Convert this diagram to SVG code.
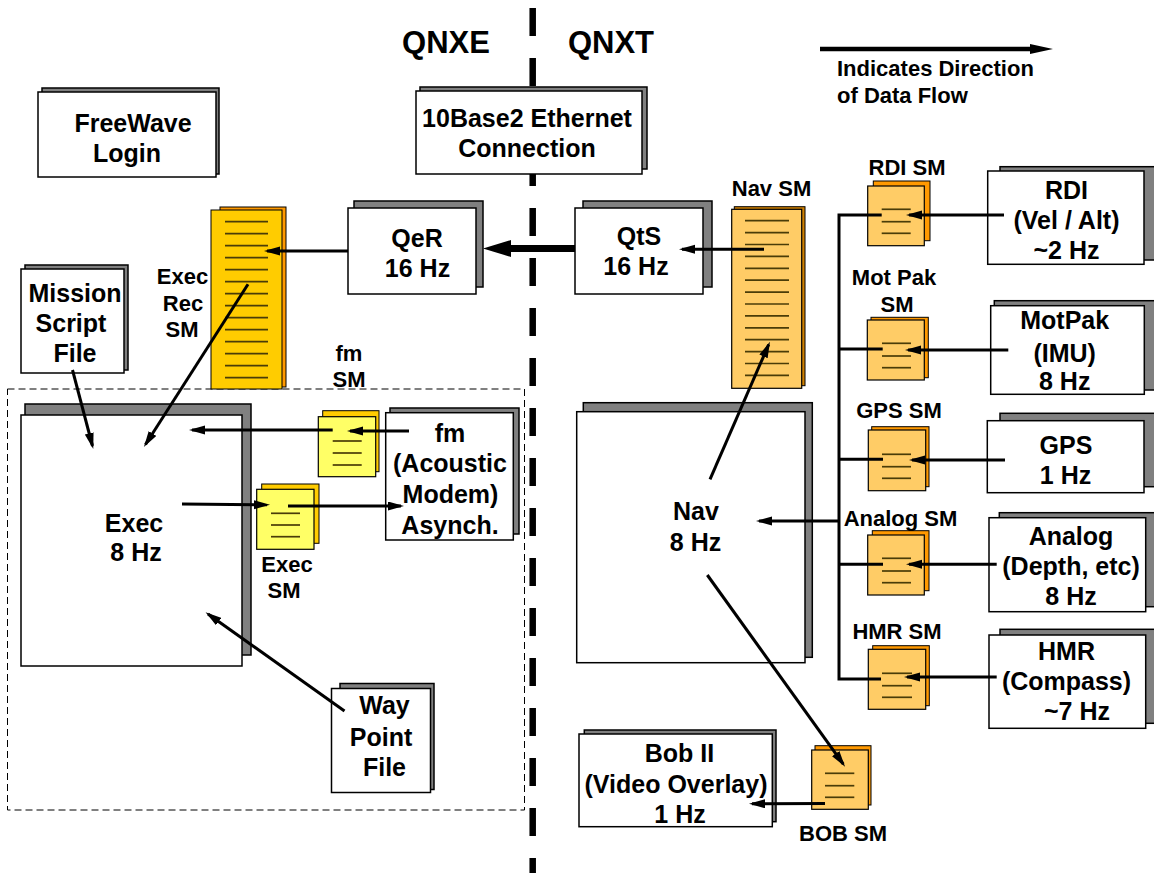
<svg xmlns="http://www.w3.org/2000/svg" width="1154" height="873" viewBox="0 0 1154 873">
<defs>
<style>
text{font-family:"Liberation Sans",Arial,sans-serif;font-weight:bold;fill:#000}
.L{font-size:25px;text-anchor:middle}
.S{font-size:22px;text-anchor:middle}
.Q{font-size:31px;text-anchor:middle}
.sh{fill:#808080;stroke:#000;stroke-width:1.5}
.bx{fill:#fff;stroke:#000;stroke-width:1.5}
.ln{stroke:#4a3c08;stroke-width:1.7}
.c{stroke:#000;stroke-width:3;fill:none}
.ca{stroke:#000;stroke-width:3;fill:none;marker-end:url(#ah)}
.yb{fill:#FFCC00;stroke:#000;stroke-width:1}
.yf{fill:#FFFF66;stroke:#000;stroke-width:1.2}
.ob{fill:#FF9900;stroke:#000;stroke-width:1}
.of{fill:#FFCC66;stroke:#000;stroke-width:1.2}
</style>
<marker id="ah" markerUnits="userSpaceOnUse" markerWidth="18" markerHeight="10" refX="13" refY="4.5" orient="auto">
<path d="M0,0 L16,4.5 L0,9 z" fill="#000"/>
</marker>
</defs>

<!-- center divider -->
<line x1="532.7" y1="8" x2="532.7" y2="873" stroke="#000" stroke-width="6.5" stroke-dasharray="28 22"/>
<!-- dashed region -->
<rect x="7.5" y="389" width="517" height="421" fill="none" stroke="#000" stroke-width="1" stroke-dasharray="7 4"/>

<text class="Q" x="446" y="53">QNXE</text>
<text class="Q" x="611" y="53">QNXT</text>

<g id="legend">
<line x1="820" y1="49" x2="1032" y2="49" stroke="#000" stroke-width="4.5"/>
<polygon points="1053,49 1030,44 1030,54" fill="#000"/>
<text x="837" y="76" style="font-size:22px">Indicates Direction</text>
<text x="837" y="103" style="font-size:22px">of Data Flow</text>
</g>

<g id="freewave">
<rect class="sh" x="42" y="88" width="177" height="86"/>
<rect class="bx" x="38" y="92" width="178" height="85"/>
<text class="L" x="133" y="132">FreeWave</text>
<text class="L" x="127" y="162">Login</text>
</g>

<g id="ethernet">
<rect class="sh" x="420" y="87" width="227" height="82"/>
<rect class="bx" x="416" y="91" width="226" height="83"/>
<text class="L" x="527" y="127">10Base2 Ethernet</text>
<text class="L" x="527" y="157">Connection</text>
</g>

<g id="mission">
<rect class="sh" x="25" y="265" width="103" height="105"/>
<rect class="bx" x="21" y="269" width="103" height="104"/>
<text class="L" x="75" y="302">Mission</text>
<text class="L" x="71" y="332">Script</text>
<text class="L" x="75" y="362">File</text>
</g>

<g id="execrecsm">
<rect class="ob" x="220" y="207" width="66" height="180"/>
<rect class="yb" x="211" y="210" width="71" height="179"/>
<g class="ln">
<line x1="225" y1="221.7" x2="268" y2="221.7"/><line x1="225" y1="233.7" x2="268" y2="233.7"/>
<line x1="225" y1="245.7" x2="268" y2="245.7"/><line x1="225" y1="257.7" x2="268" y2="257.7"/>
<line x1="225" y1="269.7" x2="268" y2="269.7"/><line x1="225" y1="281.7" x2="268" y2="281.7"/>
<line x1="225" y1="293.7" x2="268" y2="293.7"/><line x1="225" y1="305.7" x2="268" y2="305.7"/>
<line x1="225" y1="317.7" x2="268" y2="317.7"/><line x1="225" y1="329.7" x2="268" y2="329.7"/>
<line x1="225" y1="341.7" x2="268" y2="341.7"/><line x1="225" y1="353.7" x2="268" y2="353.7"/>
<line x1="225" y1="365.7" x2="268" y2="365.7"/><line x1="225" y1="377.7" x2="268" y2="377.7"/>
</g>
<text class="S" x="182.5" y="284">Exec</text>
<text class="S" x="183" y="310.5">Rec</text>
<text class="S" x="182" y="337">SM</text>
</g>

<g id="qer">
<rect class="sh" x="354" y="201" width="129" height="86"/>
<rect class="bx" x="348" y="208" width="128" height="86"/>
<text class="L" x="417" y="247">QeR</text>
<text class="L" x="417.5" y="277">16 Hz</text>
</g>

<g id="qts">
<rect class="sh" x="583" y="201" width="129" height="86"/>
<rect class="bx" x="575" y="208" width="128" height="86"/>
<text class="L" x="639" y="245">QtS</text>
<text class="L" x="636" y="275">16 Hz</text>
</g>

<g id="navsm">
<rect x="734.3" y="206.7" width="70.7" height="179" fill="#D08000" stroke="#000" stroke-width="1"/>
<rect class="of" x="731.7" y="209.3" width="70" height="179"/>
<g class="ln">
<line x1="745" y1="220.7" x2="789" y2="220.7"/><line x1="745" y1="232.6" x2="789" y2="232.6"/>
<line x1="745" y1="244.5" x2="789" y2="244.5"/><line x1="745" y1="256.4" x2="789" y2="256.4"/>
<line x1="745" y1="268.3" x2="789" y2="268.3"/><line x1="745" y1="280.2" x2="789" y2="280.2"/>
<line x1="745" y1="292.1" x2="789" y2="292.1"/><line x1="745" y1="304" x2="789" y2="304"/>
<line x1="745" y1="315.9" x2="789" y2="315.9"/><line x1="745" y1="327.8" x2="789" y2="327.8"/>
<line x1="745" y1="339.7" x2="789" y2="339.7"/><line x1="745" y1="351.6" x2="789" y2="351.6"/>
<line x1="745" y1="363.5" x2="789" y2="363.5"/><line x1="745" y1="375.4" x2="789" y2="375.4"/>
</g>
<text class="S" x="771.5" y="196">Nav SM</text>
</g>

<g id="exec">
<rect class="sh" x="25" y="404" width="226" height="251"/>
<rect class="bx" x="21" y="415" width="221" height="251"/>
<text class="L" x="134" y="532">Exec</text>
<text class="L" x="136" y="561">8 Hz</text>
</g>

<g id="fmsm">
<rect class="yb" x="322.7" y="410.7" width="56.3" height="61"/>
<rect class="yf" x="318.3" y="416.7" width="57.4" height="60"/>
<g class="ln">
<line x1="332.7" y1="441" x2="361.7" y2="441"/><line x1="332.7" y1="453" x2="361.7" y2="453"/><line x1="332.7" y1="465" x2="361.7" y2="465"/>
</g>
<text class="S" x="349" y="361">fm</text>
<text class="S" x="349" y="387">SM</text>
</g>

<g id="fm">
<rect class="sh" x="390" y="408" width="129" height="126"/>
<rect class="bx" x="385.7" y="412.7" width="127.6" height="127.3"/>
<text class="L" x="450" y="442">fm</text>
<text class="L" x="450" y="472">(Acoustic</text>
<text class="L" x="450.5" y="503">Modem)</text>
<text class="L" x="450" y="534">Asynch.</text>
</g>

<g id="execsm">
<rect class="yb" x="261.7" y="484" width="57.3" height="59.3"/>
<rect class="yf" x="256.7" y="489.3" width="57.3" height="60"/>
<g class="ln">
<line x1="271" y1="513.3" x2="300" y2="513.3"/><line x1="271" y1="525" x2="300" y2="525"/><line x1="271" y1="536.7" x2="300" y2="536.7"/>
</g>
<text class="S" x="287" y="572">Exec</text>
<text class="S" x="284" y="598">SM</text>
</g>

<g id="waypoint">
<rect class="sh" x="340" y="683.5" width="94" height="106"/>
<rect class="bx" x="331.5" y="688.5" width="99" height="104"/>
<text class="L" x="384.5" y="714">Way</text>
<text class="L" x="381" y="746">Point</text>
<text class="L" x="384.5" y="776">File</text>
</g>

<g id="nav">
<rect class="sh" x="583.3" y="402.7" width="229" height="254.6"/>
<rect class="bx" x="576.7" y="411.7" width="228.3" height="251"/>
<text class="L" x="696" y="520">Nav</text>
<text class="L" x="695.5" y="551">8 Hz</text>
</g>

<g id="bob">
<rect class="sh" x="584.3" y="730" width="191.7" height="91.7"/>
<rect class="bx" x="579" y="734" width="193.3" height="92.7"/>
<text class="L" x="679.5" y="762">Bob II</text>
<text class="L" x="676" y="793">(Video Overlay)</text>
<text class="L" x="680" y="823">1 Hz</text>
</g>

<g id="bobsm">
<rect class="ob" x="815" y="745.7" width="56" height="59.3"/>
<rect class="of" x="811.7" y="750" width="56.6" height="59.3"/>
<g class="ln">
<line x1="825" y1="773.3" x2="854.3" y2="773.3"/><line x1="825" y1="785.7" x2="854.3" y2="785.7"/><line x1="825" y1="797.3" x2="854.3" y2="797.3"/>
</g>
<text class="S" x="843" y="841">BOB SM</text>
</g>

<g id="rdism">
<rect class="ob" x="873.3" y="181" width="56.7" height="59.7"/>
<rect class="of" x="867.7" y="186" width="56.6" height="59.7"/>
<g class="ln">
<line x1="881.7" y1="209.3" x2="910.7" y2="209.3"/><line x1="881.7" y1="221.7" x2="910.7" y2="221.7"/><line x1="881.7" y1="233.3" x2="910.7" y2="233.3"/>
</g>
<text class="S" x="907" y="175">RDI SM</text>
</g>

<g id="rdi">
<rect class="sh" x="1000" y="166.7" width="160" height="93.3"/>
<rect class="bx" x="987.7" y="171" width="156.3" height="93.3"/>
<text class="L" x="1066.5" y="198.5">RDI</text>
<text class="L" x="1066.5" y="228.5">(Vel / Alt)</text>
<text class="L" x="1066.5" y="258.5">~2 Hz</text>
</g>

<g id="motpaksm">
<rect class="ob" x="871" y="317.3" width="57.3" height="60.4"/>
<rect class="of" x="867.3" y="320" width="57" height="60"/>
<g class="ln">
<line x1="882" y1="343.3" x2="911" y2="343.3"/><line x1="882" y1="356" x2="911" y2="356"/><line x1="882" y1="367.7" x2="911" y2="367.7"/>
</g>
<text class="S" x="894" y="285">Mot Pak</text>
<text class="S" x="897" y="311.5">SM</text>
</g>

<g id="motpak">
<rect class="sh" x="994.3" y="300.7" width="165" height="89.3"/>
<rect class="bx" x="990.7" y="305.7" width="153.6" height="88.6"/>
<text class="L" x="1064.7" y="328.5">MotPak</text>
<text class="L" x="1064.7" y="361.5">(IMU)</text>
<text class="L" x="1064.7" y="389.5">8 Hz</text>
</g>

<g id="gpssm">
<rect class="ob" x="871.7" y="426.7" width="57.3" height="60"/>
<rect class="of" x="868.3" y="430" width="57.4" height="60.7"/>
<g class="ln">
<line x1="882" y1="454.3" x2="911" y2="454.3"/><line x1="882" y1="466.7" x2="911" y2="466.7"/><line x1="882" y1="478.3" x2="911" y2="478.3"/>
</g>
<text class="S" x="899" y="417.5">GPS SM</text>
</g>

<g id="gps">
<rect class="sh" x="1000" y="413.3" width="160" height="73.4"/>
<rect class="bx" x="987.3" y="420.7" width="156.7" height="72"/>
<text class="L" x="1066" y="454">GPS</text>
<text class="L" x="1065.5" y="484">1 Hz</text>
</g>

<g id="analogsm">
<rect class="ob" x="872.3" y="530.7" width="56.7" height="60"/>
<rect class="of" x="867.7" y="535" width="56.6" height="60"/>
<g class="ln">
<line x1="882" y1="558.3" x2="911" y2="558.3"/><line x1="882" y1="571" x2="911" y2="571"/><line x1="882" y1="582.7" x2="911" y2="582.7"/>
</g>
<text class="S" x="900.5" y="526">Analog SM</text>
</g>

<g id="analog">
<rect class="sh" x="999.3" y="512.7" width="160" height="94"/>
<rect class="bx" x="989" y="517.7" width="156.7" height="94"/>
<text class="L" x="1071" y="545">Analog</text>
<text class="L" x="1071" y="575">(Depth, etc)</text>
<text class="L" x="1071" y="605">8 Hz</text>
</g>

<g id="hmrsm">
<rect class="ob" x="872.7" y="645.7" width="56.6" height="60"/>
<rect class="of" x="868.3" y="649.3" width="57.4" height="60"/>
<g class="ln">
<line x1="882" y1="673.3" x2="912" y2="673.3"/><line x1="882" y1="685.7" x2="912" y2="685.7"/><line x1="882" y1="697.3" x2="912" y2="697.3"/>
</g>
<text class="S" x="897" y="638.5">HMR SM</text>
</g>

<g id="hmr">
<rect class="sh" x="1000" y="629.3" width="160" height="94"/>
<rect class="bx" x="989" y="635" width="156.7" height="93.3"/>
<text class="L" x="1066.5" y="660">HMR</text>
<text class="L" x="1066.5" y="690">(Compass)</text>
<text class="L" x="1077" y="720">~7 Hz</text>
</g>

<g id="connectors">
<!-- QtS to QeR thick -->
<line x1="575" y1="248.5" x2="508" y2="248.5" stroke="#000" stroke-width="7"/>
<polygon points="483,248.5 511,240 511,257" fill="#000"/>
<!-- QeR to Exec Rec SM -->
<line class="ca" x1="348" y1="251" x2="267" y2="251"/>
<!-- Nav SM to QtS -->
<line class="ca" x1="764" y1="249.3" x2="682" y2="249.3"/>
<!-- Mission Script to Exec -->
<line class="ca" x1="72.5" y1="370" x2="92.5" y2="446"/>
<!-- Exec Rec SM to Exec -->
<line class="ca" x1="248" y1="284.3" x2="145.5" y2="444.5"/>
<!-- fm to fm SM -->
<line class="ca" x1="409" y1="431" x2="350" y2="431"/>
<!-- fm SM to Exec -->
<line class="ca" x1="332.7" y1="430" x2="192" y2="430"/>
<!-- Exec to Exec SM -->
<line class="ca" x1="182" y1="504" x2="267" y2="504.8"/>
<!-- Exec SM to fm -->
<line class="ca" x1="288" y1="506" x2="401" y2="506"/>
<!-- Way Point to Exec -->
<line class="ca" x1="344.5" y1="711" x2="208" y2="614"/>
<!-- Nav to Nav SM -->
<line class="ca" x1="710" y1="479.3" x2="768.7" y2="344.5"/>
<!-- Nav to BOB SM -->
<line class="ca" x1="707.3" y1="575" x2="843.3" y2="764.2"/>
<!-- BOB SM to Bob II -->
<line class="ca" x1="825" y1="803.5" x2="752" y2="803.8"/>
<!-- bus -->
<polyline class="c" points="881.7,215 839,215 839,679 881,679"/>
<line class="c" x1="839" y1="349" x2="882.7" y2="349"/>
<line class="c" x1="839" y1="459.3" x2="883" y2="459.3"/>
<line class="c" x1="839" y1="564.3" x2="883" y2="564.3"/>
<line class="ca" x1="839" y1="521" x2="759" y2="521"/>
<!-- devices to SMs -->
<line class="ca" x1="1004" y1="215" x2="909" y2="215"/>
<line class="ca" x1="1008.3" y1="350" x2="908" y2="350"/>
<line class="ca" x1="1005" y1="460" x2="912" y2="460"/>
<line class="ca" x1="996.7" y1="564.3" x2="909" y2="564.3"/>
<line class="ca" x1="996.7" y1="677" x2="907" y2="677"/>
</g>
</svg>
